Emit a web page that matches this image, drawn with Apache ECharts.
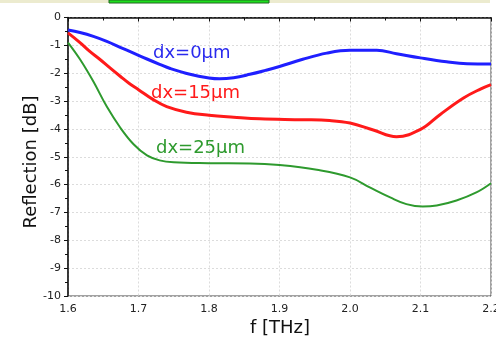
<!DOCTYPE html>
<html>
<head>
<meta charset="utf-8">
<script src="https://cdn.jsdelivr.net/npm/echarts@6/dist/echarts.min.js"></script>
<style>
  html, body { margin: 0; padding: 0; background: #fff; }
  #chart { width: 496px; height: 341px; }
</style>
</head>
<body>
<div id="chart"></div>
<script>
// Frequency (THz) and reflection (dB) for three offsets dx
const freq0 = [1.6, 1.617, 1.636, 1.655, 1.674, 1.693, 1.712, 1.73, 1.745, 1.773, 1.8, 1.815, 1.835, 1.858, 1.88, 1.9, 1.933, 1.967, 2.0, 2.038, 2.066, 2.1, 2.137, 2.166, 2.2];
const refl0 = [-0.45, -0.54, -0.68, -0.86, -1.07, -1.28, -1.49, -1.68, -1.83, -2.04, -2.17, -2.2, -2.16, -2.04, -1.9, -1.76, -1.5, -1.28, -1.18, -1.18, -1.3, -1.45, -1.59, -1.66, -1.67];

const freq15 = [1.6, 1.617, 1.63, 1.645, 1.66, 1.674, 1.687, 1.7, 1.721, 1.74, 1.768, 1.8, 1.835, 1.872, 1.933, 1.971, 2.0, 2.033, 2.066, 2.1, 2.128, 2.161, 2.185, 2.2];
const refl15 = [-0.55, -0.9, -1.2, -1.5, -1.82, -2.11, -2.37, -2.59, -2.95, -3.2, -3.4, -3.51, -3.58, -3.64, -3.67, -3.7, -3.79, -4.04, -4.28, -4.02, -3.48, -2.89, -2.57, -2.41];

const freq25 = [1.6, 1.617, 1.636, 1.655, 1.674, 1.693, 1.712, 1.73, 1.75, 1.8, 1.858, 1.9, 1.953, 2.0, 2.028, 2.057, 2.08, 2.103, 2.123, 2.151, 2.18, 2.2];
const refl25 = [-0.9, -1.5, -2.3, -3.2, -3.95, -4.55, -4.95, -5.13, -5.2, -5.23, -5.24, -5.3, -5.47, -5.74, -6.1, -6.46, -6.7, -6.79, -6.75, -6.57, -6.27, -5.95];

const seriesNames = ['dx=0µm', 'dx=15µm', 'dx=25µm'];
const xTicks = ['1.6', '1.7', '1.8', '1.9', '2.0', '2.1', '2.2'];

const zip = (xs, ys) => xs.map((x, i) => [x, ys[i]]);
const FONT = 'DejaVu Sans';

const chart = echarts.init(document.getElementById('chart'), null, { renderer: 'canvas' });

chart.setOption({
  animation: false,
  backgroundColor: '#ffffff',
  grid: {
    left: 68, right: 5, top: 17.5, bottom: 45,
    outerBoundsMode: 'none', containLabel: false,
    show: true, borderColor: '#444', borderWidth: 1, backgroundColor: 'transparent'
  },
  xAxis: {
    type: 'value', min: 1.6, max: 2.2, interval: 0.1,
    axisLine: { lineStyle: { color: '#111', width: 1.5 } },
    axisTick: { inside: false, length: 4, lineStyle: { color: '#111' } },
    minorTick: { show: true, splitNumber: 2, length: 3, lineStyle: { color: '#111' } },
    splitLine: { show: true, lineStyle: { color: '#dcdcdc', type: [2, 2] } },
    axisLabel: {
      color: '#222', fontFamily: FONT, fontSize: 11, margin: 8, hideOverlap: false,
      showMinLabel: true, showMaxLabel: true,
      formatter: v => xTicks.find(t => Math.abs(parseFloat(t) - v) < 1e-6) || ''
    }
  },
  yAxis: {
    type: 'value', min: -10, max: 0, interval: 1,
    axisLine: { lineStyle: { color: '#111', width: 1.5 } },
    axisTick: { inside: false, length: 4, lineStyle: { color: '#111' } },
    minorTick: { show: true, splitNumber: 2, length: 3, lineStyle: { color: '#111' } },
    splitLine: { show: true, lineStyle: { color: '#dcdcdc', type: [2, 2] } },
    axisLabel: { color: '#222', fontFamily: FONT, fontSize: 11, margin: 7 }
  },
  series: [
    { name: seriesNames[0], type: 'line', smooth: 0.4, showSymbol: false, data: zip(freq0, refl0),
      lineStyle: { color: '#1f1fff', width: 3 } },
    { name: seriesNames[1], type: 'line', smooth: 0.4, showSymbol: false, data: zip(freq15, refl15),
      lineStyle: { color: '#ff1a1a', width: 3 } },
    { name: seriesNames[2], type: 'line', smooth: 0.4, showSymbol: false, data: zip(freq25, refl25),
      lineStyle: { color: '#2e9a2e', width: 2 } }
  ],
  graphic: [
    // toolbar strip along the top edge
    { type: 'rect', shape: { x: 0, y: 0, width: 490, height: 3 }, style: { fill: '#ecebcf' } },
    { type: 'rect', shape: { x: 109, y: 0, width: 160, height: 3 }, style: { fill: '#1ee01e', stroke: '#226622', lineWidth: 1 } },
    // curve labels
    { type: 'text', x: 153, y: 53, style: { text: seriesNames[0], fill: '#2a2aee', font: '18px "DejaVu Sans"', textVerticalAlign: 'middle' } },
    { type: 'text', x: 151, y: 93, style: { text: seriesNames[1], fill: '#ff1a1a', font: '18px "DejaVu Sans"', textVerticalAlign: 'middle' } },
    { type: 'text', x: 156, y: 148, style: { text: seriesNames[2], fill: '#2e9a2e', font: '18px "DejaVu Sans"', textVerticalAlign: 'middle' } },
    // axis titles
    { type: 'text', x: 31, y: 162, rotation: Math.PI / 2,
      style: { text: 'Reflection [dB]', fill: '#111', font: '18px "DejaVu Sans"', textAlign: 'center', textVerticalAlign: 'middle' } },
    { type: 'text', x: 280, y: 328,
      style: { text: 'f [THz]', fill: '#111', font: '18px "DejaVu Sans"', textAlign: 'center', textVerticalAlign: 'middle' } }
  ]
});
</script>
</body>
</html>
